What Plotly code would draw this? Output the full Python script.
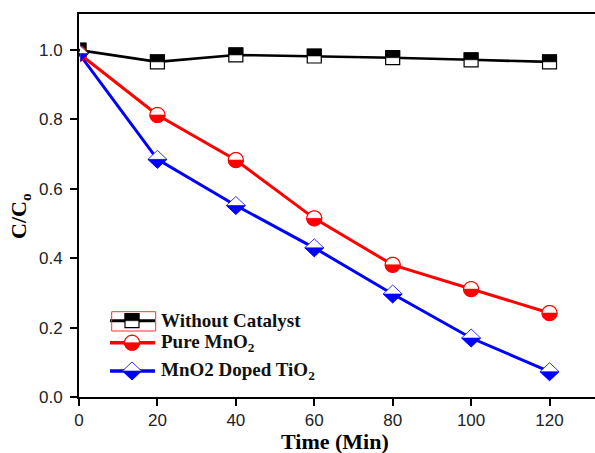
import math
import plotly.graph_objects as go

# Degradation data: normalised concentration C/Co versus irradiation time
time_min = [0, 20, 40, 60, 80, 100, 120]
without_catalyst = [1.0, 0.966, 0.986, 0.983, 0.978, 0.972, 0.966]
pure_mno2 = [0.99, 0.813, 0.683, 0.515, 0.381, 0.311, 0.242]
mno2_doped_tio2 = [0.99, 0.685, 0.552, 0.430, 0.297, 0.170, 0.073]

series_names = ["Without Catalyst", "Pure MnO<sub>2</sub>", "MnO2 Doped TiO<sub>2</sub>"]
x_ticks = [0, 20, 40, 60, 80, 100, 120]
y_ticks = [0.0, 0.2, 0.4, 0.6, 0.8, 1.0]

W, H = 595, 453
ML, MR, MT, MB = 79, 0, 14, 56
PW, PH = W - ML - MR, H - MT - MB
X_RANGE = [0, 131.6]
Y_RANGE = [0, 1.104]


def px_to_paper(px, py):
    return (px - ML) / PW, (H - MB - py) / PH


def circle_pts(r, a0, a1, n=24):
    pts = []
    for i in range(n + 1):
        a = math.radians(a0 + (a1 - a0) * i / n)
        pts.append((r * math.cos(a), r * math.sin(a)))
    return pts


# half-filled symbols as polygons in pixels relative to the anchor (y up)
SYMBOLS = {
    "square": (
        [(-7, -7), (7, -7), (7, 7), (-7, 7)],
        [(-7, 0), (7, 0), (7, 7), (-7, 7)],
    ),
    "circle": (
        circle_pts(7.5, 0, 360, 40)[:-1],
        circle_pts(7.5, 180, 360, 20),
    ),
    "diamond": (
        [(-9.5, 0), (0, 9), (9.5, 0), (0, -9)],
        [(-9.5, 0), (9.5, 0), (0, -9)],
    ),
}


def clip_left(pts, xmin):
    """Clip a polygon to x >= xmin; returns vertices and on-boundary flags."""
    out = []
    n = len(pts)
    for i in range(n):
        cur, nxt = pts[i], pts[(i + 1) % n]
        cin, nin = cur[0] >= xmin, nxt[0] >= xmin
        if cin:
            out.append((cur, False))
        if cin != nin:
            t = (xmin - cur[0]) / (nxt[0] - cur[0])
            out.append(((xmin, cur[1] + t * (nxt[1] - cur[1])), True))
    return out


def poly_path(pts, xmin=None):
    if xmin is None or min(p[0] for p in pts) >= xmin:
        return "M " + " L ".join(f"{x:.2f},{y:.2f}" for x, y in pts) + " Z"
    clipped = clip_left(pts, xmin)
    if len(clipped) < 3:
        return None
    # open the outline along the clipping edge so it is not stroked
    n = len(clipped)
    start = 0
    for i in range(n):
        if clipped[i][1] and clipped[(i + 1) % n][1]:
            start = (i + 1) % n
            break
    seq = [clipped[(start + k) % n][0] for k in range(n)]
    return "M " + " L ".join(f"{x:.2f},{y:.2f}" for x, y in seq)


def symbol_shapes(xs, ys, kind, color, xref, yref, edge_width, clip=False):
    outline, half = SYMBOLS[kind]
    shapes = []
    for xv, yv in zip(xs, ys):
        xmin = None
        if clip:
            # pixel offset of the plot's left edge (just right of the axis line)
            xmin = -(xv - X_RANGE[0]) / (X_RANGE[1] - X_RANGE[0]) * PW + 1.2
        common = dict(type="path", xref=xref, yref=yref, xsizemode="pixel",
                      ysizemode="pixel", xanchor=xv, yanchor=yv, layer="above")
        p_out, p_half = poly_path(outline, xmin), poly_path(half, xmin)
        if p_out:
            shapes.append(dict(path=p_out, fillcolor="white",
                               line=dict(color=color, width=edge_width), **common))
        if p_half:
            shapes.append(dict(path=p_half, fillcolor=color,
                               line=dict(color=color, width=0.6), **common))
    return shapes


styles = [
    (without_catalyst, "black", "square", 2.6, 1.2),
    (pure_mno2, "#ff0000", "circle", 3.0, 1.2),
    (mno2_doped_tio2, "#0000ff", "diamond", 3.0, 0.8),
]

fig = go.Figure()
shapes = []
for (vals, color, kind, lw, ew), name in zip(styles, series_names):
    fig.add_trace(go.Scatter(x=time_min, y=vals, mode="lines", name=name,
                             line=dict(color=color, width=lw), showlegend=False))
    shapes += symbol_shapes(time_min, vals, kind, color, "x", "y", ew, clip=True)

# legend block drawn in paper coordinates
legend_rows = [320.7, 342.7, 371.0]
line_x0, line_x1, mark_x, text_x = 110, 155, 132, 159
annotations = []
for (vals, color, kind, lw, ew), name, ry in zip(styles, series_names, legend_rows):
    px0, py = px_to_paper(line_x0, ry)
    px1, _ = px_to_paper(line_x1, ry)
    shapes.append(dict(type="line", xref="paper", yref="paper", x0=px0, x1=px1,
                       y0=py, y1=py, line=dict(color=color, width=lw + 0.4), layer="above"))
    mx, my = px_to_paper(mark_x, ry)
    shapes += symbol_shapes([mx], [my], kind, color, "paper", "paper", ew)
    tx, _ = px_to_paper(text_x, ry)
    annotations.append(dict(x=tx, y=py, xref="paper", yref="paper", text=f"<b>{name}</b>",
                            showarrow=False, xanchor="left", yanchor="middle",
                            font=dict(family="Liberation Serif", size=19, color="#111")))

# selection frame around the first legend sample
bx0, by0 = px_to_paper(111.7, 331.0)
bx1, by1 = px_to_paper(155.7, 311.7)
shapes.append(dict(type="rect", xref="paper", yref="paper", x0=bx0, x1=bx1, y0=by0, y1=by1,
                   line=dict(color="#ff3030", width=1), fillcolor="rgba(0,0,0,0)", layer="above"))

# axis titles
tx, ty = px_to_paper(334.5, 441.5)
annotations.append(dict(x=tx, y=ty, xref="paper", yref="paper", text="<b>Time (Min)</b>",
                        showarrow=False, xanchor="center", yanchor="middle",
                        font=dict(family="Liberation Serif", size=22, color="black")))
tx, ty = px_to_paper(20, 216)
annotations.append(dict(x=tx, y=ty, xref="paper", yref="paper", text="<b>C/C<sub>o</sub></b>",
                        showarrow=False, xanchor="center", yanchor="middle", textangle=-90,
                        font=dict(family="Liberation Serif", size=22, color="black")))

tick_font = dict(family="Liberation Sans", size=17, color="#222")
fig.update_layout(
    width=W, height=H,
    margin=dict(l=ML, r=MR, t=MT, b=MB, pad=0),
    paper_bgcolor="white", plot_bgcolor="white",
    shapes=shapes, annotations=annotations, showlegend=False,
    xaxis=dict(range=X_RANGE, tickvals=x_ticks, ticktext=[str(v) for v in x_ticks],
               ticks="outside", ticklen=7, tickwidth=2, tickcolor="black",
               showline=True, linewidth=2, linecolor="black", mirror=True,
               showgrid=False, zeroline=False, tickfont=tick_font),
    yaxis=dict(range=Y_RANGE, tickvals=y_ticks, ticktext=[f"{v:.1f}" for v in y_ticks],
               ticks="outside", ticklen=7, tickwidth=2, tickcolor="black",
               showline=True, linewidth=2, linecolor="black", mirror=False,
               showgrid=False, zeroline=False, tickfont=tick_font,
               ticklabelstandoff=4),
)

fig.write_html("out.html")
